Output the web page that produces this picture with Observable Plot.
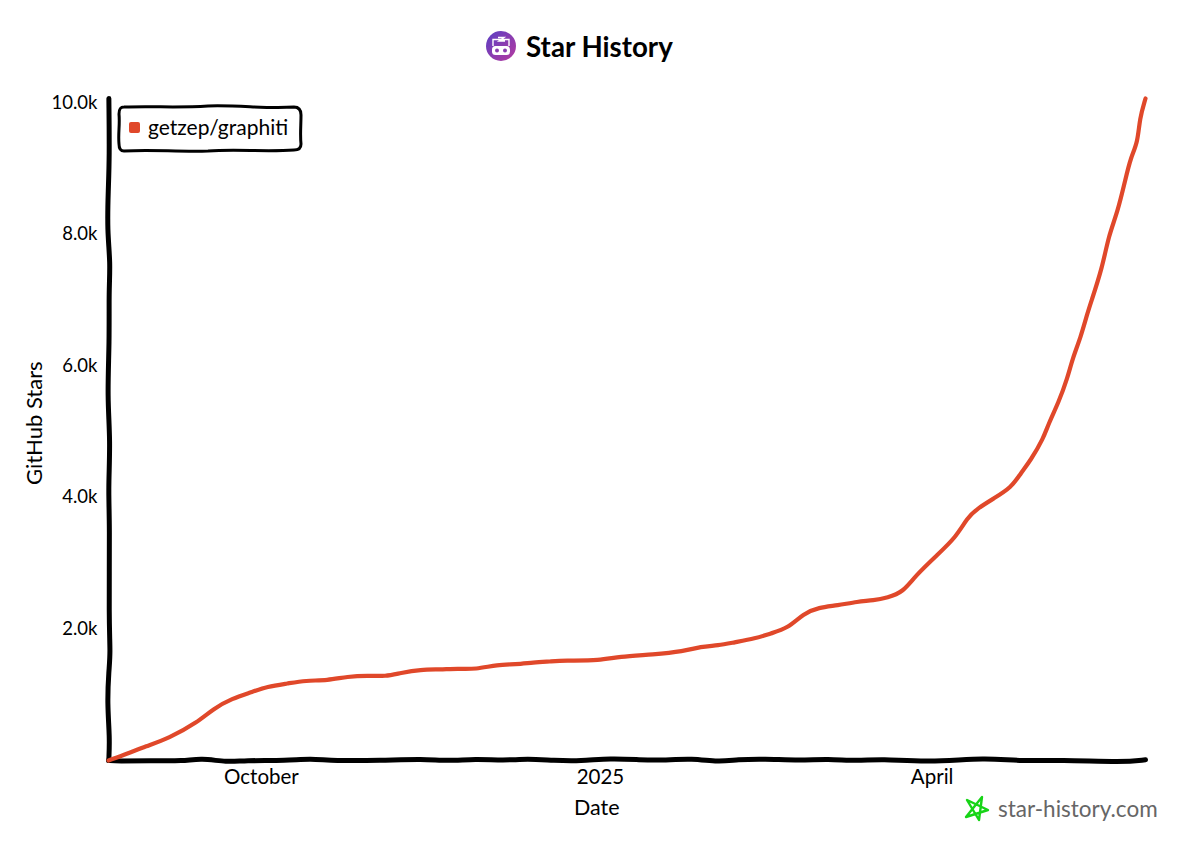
<!DOCTYPE html>
<html>
<head>
<meta charset="utf-8">
<script src="https://cdn.jsdelivr.net/npm/d3@7"></script>
<script src="https://cdn.jsdelivr.net/npm/@observablehq/plot@0.6"></script>
<style>
  html, body { margin: 0; padding: 0; background: #fff; overflow: hidden; }
  body { font-family: Lato, "Noto Sans", sans-serif; color: #000; }
  #wrap { position: relative; width: 1200px; height: 857px; }
  #title { height: 80px; position: relative; }
  #title svg { position: absolute; left: 486px; top: 31px; }
  #title span { position: absolute; left: 526px; top: 29px; font-size: 27.7px; font-weight: 700; line-height: 36px; white-space: nowrap; }
  #legend { position: absolute; left: 116px; top: 103px; }
  #legend span { position: absolute; left: 32px; top: 11px; font-size: 21px; line-height: 26px; white-space: nowrap; }
  #mark { position: absolute; left: 964px; top: 795px; }
  #marktext { position: absolute; left: 998px; top: 795px; font-size: 22.5px; line-height: 28px; color: #666; white-space: nowrap; }
  #chart svg { display: block; }
</style>
</head>
<body>
<div id="wrap">
  <div id="title">
    <svg width="30" height="30" viewBox="0 0 30 30">
      <defs><linearGradient id="g" x1="0" y1="0" x2="1" y2="1"><stop offset="0" stop-color="#5a3fc4"/><stop offset="1" stop-color="#b63a9f"/></linearGradient></defs>
      <circle cx="15" cy="15" r="15" fill="url(#g)"/>
      <rect x="6" y="15" width="18" height="9" rx="3.5" fill="#fff"/>
      <circle cx="11" cy="19.5" r="2" fill="#8a3db0"/><circle cx="19" cy="19.5" r="2" fill="#8a3db0"/>
      <path d="M7 15V8.5H23V15M12 6.5h6l-5 3.5h6" fill="none" stroke="#fff" stroke-width="1.4"/>
    </svg>
    <span>Star History</span>
  </div>
  <div id="chart"></div>
  <div id="legend">
    <svg width="188" height="52" viewBox="0 0 188 52">
      <path d="M8 4C40 3 60 5 92 3C125 2 150 6 178 4C184 4 185 8 185 12C185 22 184 32 185 41C185 46 182 47 178 47C150 49 120 46 92 48C60 49 35 46 8 48C4 48 3 45 3 41C2 30 4 22 3 11C3 6 4 4 8 4Z" fill="#fff" stroke="#000" stroke-width="3"/>
      <rect x="13" y="19" width="11" height="11" rx="2" fill="#e0482a"/>
    </svg>
    <span>getzep/graphiti</span>
  </div>
  <svg id="mark" width="28" height="28" viewBox="0 0 28 28">
    <path d="M18 2L15 25L3 5L24 15L2 22Z" fill="none" stroke="#17d417" stroke-width="2.4" stroke-linejoin="round"/>
  </svg>
  <div id="marktext">star-history.com</div>
</div>
<script>
// Days since the first date, and stars
const startDate = Date.UTC(2024, 7, 20, 12);
const dayOffsets = [0,5.2,10,16.3,24.1,28.5,33.6,38.5,43.1,48.6,53.5,59.4,64.9,70.3,75.2,79.2,84.7,90.1,94.7,99.6,105.6,110.4,115.3,119.9,123.5,133.5,138.4,147.9,156,160.7,165.5,169.6,175.6,179.6,184.3,188.6,192.7,197.8,203.3,207.6,211.4,215.5,219,225,229.9,233.1,235.8,240.2,245,247.5,250.2,253.7,255.1,257.8,260.2,261.6,263.8,265.7,266.5,269.7,271.4,273.8,276,277.4,279.3,279.8,281.4];
const stars = [0,106,213,335,578,791,943,1034,1126,1171,1217,1217,1278,1293,1278,1331,1384,1384,1399,1384,1460,1460,1491,1506,1521,1521,1582,1612,1658,1734,1749,1795,1856,1932,2008,2236,2327,2358,2418,2434,2479,2555,2814,3133,3392,3696,3833,3985,4152,4365,4563,4898,5126,5445,5810,6114,6434,6814,6951,7499,7985,8335,8852,9172,9400,9765,10069];
const seriesName = "getzep/graphiti";

const yTicks = [2000, 4000, 6000, 8000, 10000];
const yTickLabels = ["2.0k", "4.0k", "6.0k", "8.0k", "10.0k"];
const xTickDates = ["2024-10-01", "2025-01-01", "2025-04-01"];
const xTickLabels = ["October", "2025", "April"];

// Hand-drawn wobble of the two axis lines
const xAxisDays = [0,2.4,11.4,20.4,25,32.3,36.6,48.6,54.8,61.1,73.8,85.5,92,99.6,107.2,113.7,120.8,128.1,136.2,144.4,149.8,158.5,165.5,170.7,177.7,187.8,195.1,203.3,209.5,222.2,238.5,246.7,258.3,275.4,281.4];
const xAxisWobble = [0,-10,0,-10,35,-26,0,0,30,-5,0,26,-10,26,0,26,0,-10,35,10,0,35,-26,15,26,0,26,-10,26,-26,41,-10,10,-26,10];
const yAxisStars = [0,350,867,1369,1627,2129,3650,4107,4867,5521,6388,7149,7560,8061,8670,9172,10069];
const yAxisWobble = [0.08,0.35,-0.35,0.08,0.54,0.08,0.35,-0.08,0.54,-0.35,0.27,0.08,0.54,-0.35,-0.08,0.27,0.1];

const dateOf = d => new Date(startDate + d * 864e5);
const rows = dayOffsets.map((d, i) => ({date: dateOf(d), stars: stars[i], series: seriesName}));
const xAxisLine = xAxisDays.map((d, i) => ({date: dateOf(d), stars: xAxisWobble[i]}));
const yAxisLine = yAxisStars.map((s, i) => ({date: dateOf(yAxisWobble[i]), stars: s}));

const chart = Plot.plot({
  width: 1200,
  height: 777,
  marginLeft: 108,
  marginRight: 55,
  marginTop: 18,
  marginBottom: 97,
  style: {fontFamily: "Lato, 'Noto Sans', sans-serif", background: "#fff", color: "#000", overflow: "visible"},
  x: {type: "utc", domain: [dateOf(0), dateOf(281.4)]},
  y: {domain: [0, 10069]},
  marks: [
    Plot.axisY({
      ticks: yTicks, tickSize: 0, tickPadding: 11, fontSize: 18.5, label: null,
      tickFormat: d => yTickLabels[yTicks.indexOf(d)]
    }),
    Plot.axisX({
      ticks: xTickDates.map(d => new Date(d)), tickSize: 0, tickPadding: 9, fontSize: 20.5, label: null,
      tickFormat: d => xTickLabels[xTickDates.indexOf(d.toISOString().slice(0, 10))]
    }),
    Plot.line(xAxisLine, {x: "date", y: "stars", stroke: "#000", strokeWidth: 5, curve: "basis", strokeLinecap: "round"}),
    Plot.line(yAxisLine, {x: "date", y: "stars", stroke: "#000", strokeWidth: 5, curve: "basis", strokeLinecap: "round"}),
    Plot.line(rows, {x: "date", y: "stars", stroke: "#e0482a", strokeWidth: 4.2, curve: "basis", strokeLinecap: "round", strokeLinejoin: "round"}),
    Plot.text(["Date"], {x: new Date("2024-12-31"), frameAnchor: "bottom", dy: 54, fontSize: 21.5, fill: "#000"}),
    Plot.text(["GitHub Stars"], {y: 5130, frameAnchor: "left", dx: -74, rotate: -90, textAnchor: "middle", fontSize: 22, fill: "#000"})
  ]
});
document.getElementById("chart").append(chart);
</script>
</body>
</html>
